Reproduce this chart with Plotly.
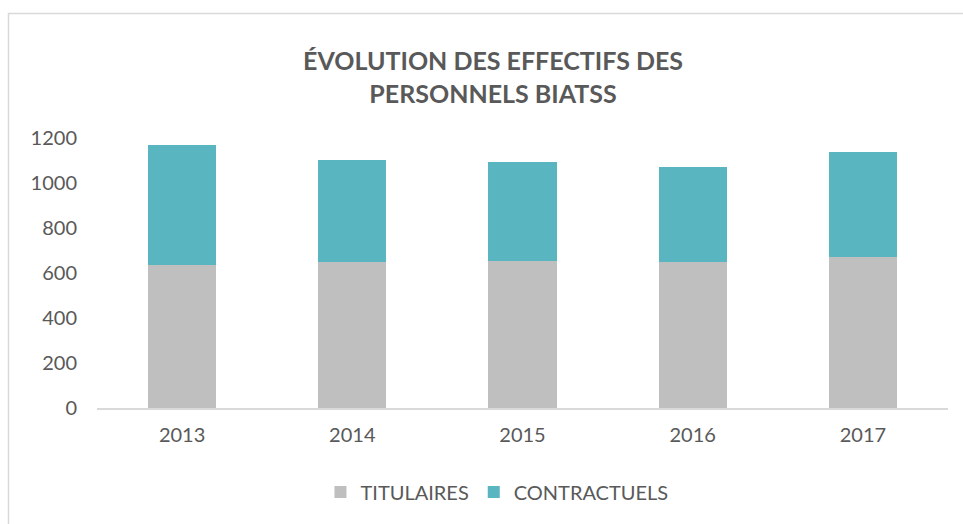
import plotly.graph_objects as go

years = ["2013", "2014", "2015", "2016", "2017"]
titulaires = [635, 650, 655, 650, 673]
contractuels = [536, 454, 440, 421, 463]

W, H = 963, 524
L, R, T, B = 97, 15, 138, 116

fig = go.Figure()
fig.add_trace(go.Bar(x=years, y=titulaires, name="TITULAIRES",
                     marker=dict(color="#BFBFBF", line=dict(width=0))))
fig.add_trace(go.Bar(x=years, y=contractuels, name="CONTRACTUELS",
                     marker=dict(color="#59B5BF", line=dict(width=0))))

pw = W - L - R
ph = H - T - B
def px_x(px):
    return (px - L) / pw
def px_y(py):
    return (H - B - py) / ph

fig.update_layout(
    width=W, height=H,
    margin=dict(l=L, r=R, t=T, b=B, autoexpand=False),
    barmode="stack", bargap=0.6,
    paper_bgcolor="white", plot_bgcolor="white",
    font=dict(family="Lato, Open Sans, sans-serif", color="#595959", size=20),
    title=dict(text="<b>ÉVOLUTION DES EFFECTIFS DES<br>PERSONNELS BIATSS</b>",
               x=0.512, xanchor="center", y=1 - 70 / H, yanchor="middle",
               font=dict(size=25, color="#595959")),
    xaxis=dict(showline=True, linecolor="#D9D9D9", linewidth=1.5,
               ticks="", showgrid=False, tickfont=dict(size=20, color="#595959"),
               ticklabelstandoff=8),
    yaxis=dict(range=[0, 1200], dtick=200, showgrid=False, showline=False,
               zeroline=False, ticks="", tickfont=dict(size=20, color="#595959"),
               ticklabelstandoff=19),
    legend=dict(orientation="h", x=0.47, xanchor="center", y=px_y(492), yanchor="middle",
                font=dict(size=20, color="#595959"), traceorder="normal",
                itemwidth=30),
    showlegend=True,
    shapes=[dict(type="path", xref="paper", yref="paper",
                 path=f"M {px_x(8.5)} {px_y(530)} L {px_x(8.5)} {px_y(13.5)} L {px_x(975)} {px_y(13.5)}",
                 line=dict(color="#D9D9D9", width=1.5))],
)

fig.write_html("out.html", config={"displayModeBar": False},
               post_script="document.body.style.margin='0';document.body.style.overflow='hidden';")
